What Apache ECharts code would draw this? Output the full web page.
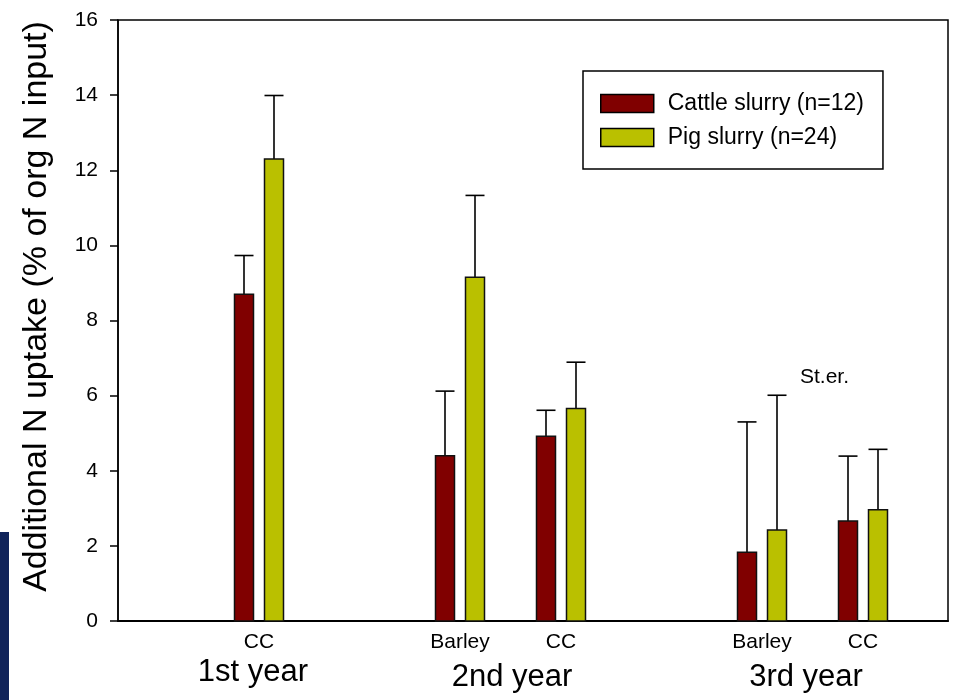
<!DOCTYPE html>
<html>
<head>
<meta charset="utf-8">
<script src="https://cdn.jsdelivr.net/npm/echarts@6/dist/echarts.min.js"></script>
<style>
html, body { margin: 0; padding: 0; background: #fff; }
#chart { width: 956px; height: 700px; }
</style>
</head>
<body>
<div id="chart"></div>
<script>
// group centres on the x scale, and what sits under each pair
const groupPos = [1.41, 3.42, 4.43, 6.44, 7.45];
const cropLabels = ['CC', 'Barley', 'CC', 'Barley', 'CC'];
const yearLabels = ['1st year', '2nd year', '3rd year'];
const yearPos = [1.35, 3.94, 6.88];

// mean and standard error, % of organic N input
const cattleMean = [8.70, 4.40, 4.92, 1.83, 2.66];
const cattleSE = [1.03, 1.72, 0.69, 3.47, 1.73];
const pigMean = [12.30, 9.15, 5.66, 2.42, 2.96];
const pigSE = [1.69, 2.18, 1.23, 3.59, 1.61];

const seriesNames = ['Cattle slurry (n=12)', 'Pig slurry (n=24)'];
const colors = ['#800000', '#bac000'];

const FONT = '"Liberation Sans", Arial, sans-serif';
const BAR_W = 19;
const yearDrop = [51, 56, 56];

const chart = echarts.init(document.getElementById('chart'));

function barWithError(offset, color) {
    return function (params, api) {
        const x = api.value(0);
        const v = api.value(1);
        const se = api.value(2);
        const base = api.coord([x, 0]);
        const top = api.coord([x, v]);
        const errTop = api.coord([x, v + se]);
        const cx = base[0] + offset;
        const lineStyle = { stroke: '#000', lineWidth: 1.6 };
        return {
            type: 'group',
            children: [
                { type: 'line', shape: { x1: cx, y1: top[1], x2: cx, y2: errTop[1] }, style: lineStyle },
                { type: 'line', shape: { x1: cx - BAR_W / 2, y1: errTop[1], x2: cx + BAR_W / 2, y2: errTop[1] }, style: lineStyle },
                {
                    type: 'rect',
                    shape: { x: cx - BAR_W / 2, y: top[1], width: BAR_W, height: base[1] - top[1] },
                    style: { fill: color, stroke: '#111', lineWidth: 1.5 }
                }
            ]
        };
    };
}

function textSeries(positions, labels, size, drop) {
    return {
        type: 'custom',
        silent: true,
        clip: false,
        data: positions.map((x) => [x, 0]),
        renderItem: function (params, api) {
            const p = api.coord([api.value(0), 0]);
            const dy = Array.isArray(drop) ? drop[params.dataIndex] : drop;
            return {
                type: 'text',
                x: p[0],
                y: p[1] + dy,
                style: {
                    text: labels[params.dataIndex],
                    fontSize: size,
                    fontFamily: FONT,
                    fill: '#000',
                    align: 'center',
                    verticalAlign: 'middle'
                }
            };
        }
    };
}

const options = {
    animation: false,
    grid: {
        left: 118,
        right: 8,
        top: 20,
        bottom: 79,
        show: true,
        borderColor: '#000',
        borderWidth: 1.5
    },
    legend: {
        orient: 'vertical',
        left: 583,
        top: 71,
        padding: [21, 19, 20, 17],
        itemWidth: 53,
        itemHeight: 18,
        itemGap: 11,
        borderColor: '#000',
        borderWidth: 1.5,
        icon: 'rect',
        textStyle: { fontSize: 23, fontFamily: FONT, color: '#000', lineHeight: 18, padding: [0, 0, 0, 9] },
        data: seriesNames.map((n, i) => ({
            name: n,
            itemStyle: { color: colors[i], borderColor: '#000', borderWidth: 1.5 }
        }))
    },
    xAxis: {
        type: 'value',
        min: 0,
        max: 8.3,
        axisLine: { show: true, lineStyle: { color: '#000', width: 2 } },
        axisTick: { show: false },
        axisLabel: { show: false },
        splitLine: { show: false }
    },
    yAxis: {
        type: 'value',
        min: 0,
        max: 16,
        interval: 2,
        name: 'Additional N uptake (% of org N input)',
        nameLocation: 'middle',
        nameRotate: 90,
        nameGap: 64,
        nameTextStyle: { fontSize: 34, fontFamily: FONT, color: '#000', padding: [0, 0, 0, 28] },
        axisLine: { show: true, lineStyle: { color: '#000', width: 1.5 } },
        axisTick: { show: true, inside: false, length: 8, lineStyle: { color: '#000', width: 1.5 } },
        axisLabel: { fontSize: 21, fontFamily: FONT, color: '#000', margin: 20 },
        splitLine: { show: false }
    },
    graphic: [
        { type: 'rect', left: 0, top: 532, shape: { width: 9, height: 168 }, style: { fill: '#10235a' } },
        {
            type: 'text', left: 800, top: 367,
            style: { text: 'St.er.', fontSize: 21, fontFamily: FONT, fill: '#000' }
        }
    ],
    series: [
        {
            name: seriesNames[0],
            type: 'custom',
            itemStyle: { color: colors[0] },
            data: groupPos.map((x, i) => [x, cattleMean[i], cattleSE[i]]),
            renderItem: barWithError(-15, colors[0])
        },
        {
            name: seriesNames[1],
            type: 'custom',
            itemStyle: { color: colors[1] },
            data: groupPos.map((x, i) => [x, pigMean[i], pigSE[i]]),
            renderItem: barWithError(15, colors[1])
        },
        textSeries(groupPos, cropLabels, 21, 21),
        textSeries(yearPos, yearLabels, 31, yearDrop)
    ]
};

chart.setOption(options);
</script>
</body>
</html>
